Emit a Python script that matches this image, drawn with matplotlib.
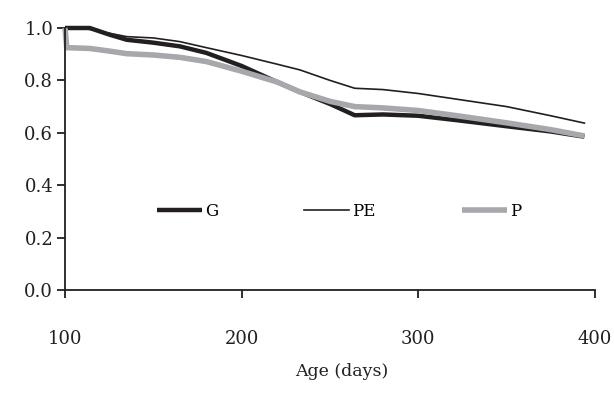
import matplotlib.pyplot as plt

plt.rcParams['font.family'] = ['DejaVu Serif']

days_g = [100, 114, 125, 135, 150, 165, 180, 200, 220, 233, 250, 264, 280, 300, 322, 350, 375, 394]
g = [1.0, 1.0, 0.975, 0.955, 0.944, 0.93, 0.905, 0.855, 0.794, 0.756, 0.71, 0.667, 0.67, 0.665, 0.648, 0.625, 0.605, 0.585]

days_pe = [100, 114, 125, 135, 150, 165, 180, 200, 220, 233, 250, 264, 280, 300, 322, 350, 375, 394]
pe = [1.0, 0.995, 0.98, 0.967, 0.962, 0.948, 0.925, 0.895, 0.862, 0.84, 0.80, 0.77, 0.765, 0.75, 0.728, 0.70, 0.665, 0.637]

days_p = [100, 101, 114, 125, 135, 150, 165, 180, 200, 220, 233, 250, 264, 280, 300, 322, 350, 375, 394]
p = [1.0, 0.925, 0.922, 0.912, 0.902, 0.897, 0.888, 0.872, 0.835, 0.794, 0.756, 0.72, 0.70, 0.695, 0.685, 0.665, 0.638, 0.612, 0.588]

fig = plt.figure(figsize=(6.14, 3.94), dpi=100)
ax = fig.add_axes([65/614, 1-290/394, 530/614, 262/394])

ax.plot(days_g, g, color='#231f20', lw=3.2, label='G', clip_on=False, solid_capstyle='butt')
ax.plot(days_pe, pe, color='#231f20', lw=1.2, label='PE', clip_on=False)
ax.plot(days_p, p, color='#a6a8ab', lw=4.0, label='P', clip_on=False, solid_capstyle='butt')

ax.set_xlim(100, 400)
ax.set_ylim(0, 1.0)
ax.set_xticks([100, 200, 300, 400])
ax.set_yticks([0.0, 0.2, 0.4, 0.6, 0.8, 1.0])
ax.set_yticklabels(['0.0', '0.2', '0.4', '0.6', '0.8', '1.0'])

for s in ['top', 'right']:
    ax.spines[s].set_visible(False)
for s in ['left', 'bottom']:
    ax.spines[s].set_linewidth(1.3)
    ax.spines[s].set_color('#231f20')

ax.tick_params(axis='x', direction='out', length=5.5, width=1.3, pad=23, labelsize=13, colors='#231f20')
ax.tick_params(axis='y', direction='out', length=5.5, width=1.3, pad=3, labelsize=13, colors='#231f20')

fig.text(342/614, 1-372/394, 'Age (days)', ha='center', va='center', fontsize=12.5, color='#231f20')

ax.legend(loc='center', bbox_to_anchor=(0.517, 0.3), ncol=3, frameon=False, fontsize=12,
          handlelength=2.7, columnspacing=5.2, handletextpad=0.15)

fig.savefig('out.png', dpi=100)
